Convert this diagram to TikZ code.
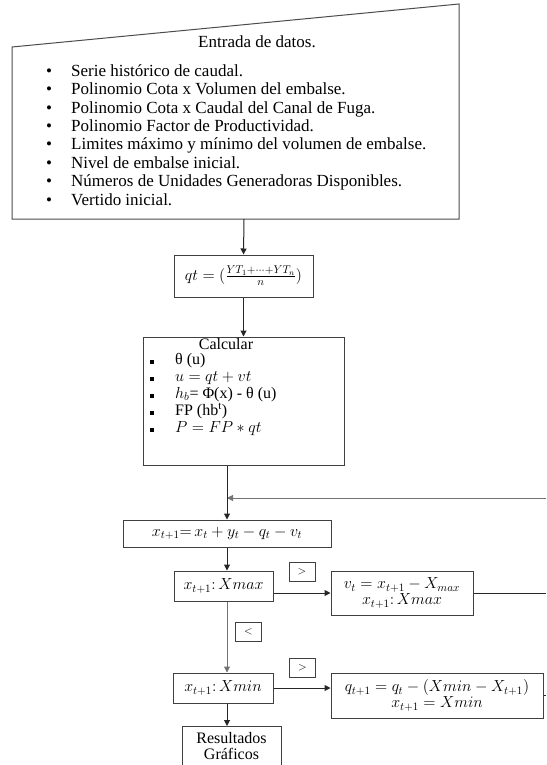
\RequirePackage{fix-cm}
\documentclass[tikz,border=0pt]{standalone}
\usepackage{fontspec}
\setmainfont{Liberation Serif}
\newfontfamily\tnr{Liberation Serif}
\usetikzlibrary{arrows.meta}
\begin{document}
\begin{tikzpicture}[x=1pt,y=-1pt,
  every node/.style={font=\tnr\fontsize{17}{18.4}\selectfont},
  box/.style={draw=black!75, line width=1pt, inner sep=0pt},
  lbl/.style={draw=black!75, line width=0.8pt, inner sep=0pt, minimum width=26pt, minimum height=19pt, font=\tnr\fontsize{11}{13}\selectfont},
  conn/.style={draw=black!85, line width=1pt},
  arr/.style={conn, -{Triangle[length=6pt,width=6pt]}},
  txt/.style={anchor=mid west, inner sep=0pt},
  ctxt/.style={font=\tnr\fontsize{16}{17}\selectfont, anchor=mid west, inner sep=0pt},
  mth/.style={font=\tnr\fontsize{16}{17}\selectfont}]
\useasboundingbox (0,0) rectangle (546,765);
\fill[white] (0,0) rectangle (546,765);
% manual input shape
\coordinate (t1) at (12,47);
\coordinate (t2) at (459,4);
\coordinate (t3) at (459,219);
\coordinate (t4) at (12,219);
\draw[draw=black!70, line width=1pt] (t1) -- (t2) -- (t3) -- (t4) -- cycle;
\coordinate (inB) at (244,219);
\node[inner sep=0pt] (title) at (257,42) {Entrada de datos.};
\foreach \t [count=\i from 0] in {Serie histórico de caudal.,
  Polinomio Cota x Volumen del embalse.,
  Polinomio Cota x Caudal del Canal de Fuga.,
  Polinomio Factor de Productividad.,
  Limites máximo y mínimo del volumen de embalse.,
  Nivel de embalse inicial.,
  Números de Unidades Generadoras Disponibles.,
  Vertido inicial.}{
  \node[txt] (b\i) at (46,74+18.4*\i) {\textbullet};
  \node[txt] (l\i) at (71,74+18.4*\i) {\t};
}
% qt box
\node[box, mth, minimum width=139pt, minimum height=42pt] (qt) at (243.5,276)
  {$qt = (\frac{YT_1+\cdots+YT_n}{n})$};
% calcular box
\node[box, minimum width=201pt, minimum height=128pt] (calc) at (243.5,401) {};
\node[inner sep=0pt, font=\tnr\fontsize{16}{17}\selectfont] (ctitle) at (226,344) {Calcular};
\foreach \i in {0,...,4}{
  \node[fill=black, minimum size=4pt, inner sep=0pt] (sq\i) at (152,362+17*\i) {};
}
\node[ctxt] (c0) at (175,362) {θ (u)};
\node[ctxt] (c1) at (175,379) {$u = qt + vt$};
\node[ctxt] (c2) at (175,396) {$h_b$= Φ(x) - θ (u)};
\node[ctxt] (c3) at (175,413) {FP (hb\textsuperscript{t})};
\node[ctxt] (c4) at (175,430) {$P = FP * qt$};
% balance equation
\node[box, mth, minimum width=208pt, minimum height=27pt] (eq) at (227,533.5)
  {$x_{t+1}{=}\, x_t + y_t - q_t - v_t$};
\node[box, mth, minimum width=99pt, minimum height=30pt] (xmax) at (223.5,586)
  {$x_{t+1}\colon Xmax$};
\node[lbl] (gt1) at (302,571.5) {$>$};
\node[box, mth, minimum width=142pt, minimum height=44pt, align=center] (vt) at (402,593)
  {$v_t = x_{t+1} - X_{max}$\\[-1pt]$x_{t+1}\colon Xmax$};
\node[lbl] (lt) at (248.5,631.5) {$<$};
\node[lbl] (gt2) at (302.5,667.5) {$>$};
\node[box, mth, minimum width=100pt, minimum height=30pt] (xmin) at (223,688)
  {$x_{t+1}\colon Xmin$};
\node[box, mth, minimum width=212pt, minimum height=45pt, align=center] (qtb) at (437,695.5)
  {$q_{t+1} = q_t - (Xmin - X_{t+1})$\\[-1pt]$x_{t+1} = Xmin$};
\node[box, anchor=north, minimum width=99pt, minimum height=50pt] (res) at (231.5,726) {};
\node[inner sep=0pt, font=\tnr\fontsize{16}{17}\selectfont] (resA) at (231.5,738) {Resultados};
\node[inner sep=0pt, font=\tnr\fontsize{16}{17}\selectfont] (resB) at (231.5,754) {Gráficos};
% free ends on the right
\coordinate (loopR) at (546,498);
\coordinate (vtR) at (546,593);
\coordinate (qtR) at (546,695.5);
% connectors
\draw[arr] (inB) -- (qt.north);
\draw[arr] (qt.south) -- (calc.north);
\draw[arr, draw=black!55] (loopR) -- (loopR -| eq.north);
\draw[arr] (calc.south -| eq.north) -- (eq.north);
\draw[arr] (eq.south) -- (eq.south |- xmax.north);
\draw[arr] (xmax.east |- vt.west) -- (vt.west);
\draw[conn] (vt.east) -- (vtR);
\draw[arr, draw=black!55] (eq.south |- xmax.south) -- (eq.south |- xmin.north);
\draw[arr] (xmin.east) -- (xmin.east -| qtb.west);
\draw[conn] (qtb.east) -- (qtR);
\draw[arr] (eq.south |- xmin.south) -- (eq.south |- res.north);
\end{tikzpicture}
\end{document}
